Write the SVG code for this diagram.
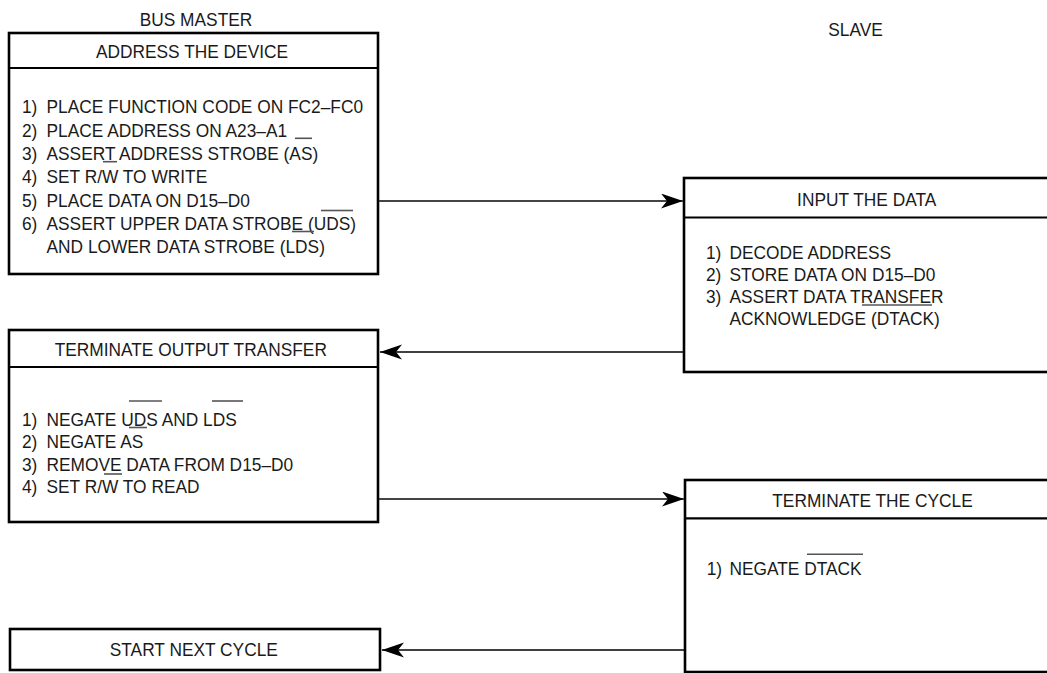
<svg xmlns="http://www.w3.org/2000/svg" width="1047" height="673" viewBox="0 0 1047 673">
<style>
.box{fill:#fff;stroke:#000;stroke-width:2.6}
.div{stroke:#000;stroke-width:2.2}
.t{font-family:"Liberation Sans",Arial,sans-serif;font-size:19px;fill:#1a1a1a}
.c{text-anchor:middle}
.bar{stroke:#555;stroke-width:1.6}
.rc{stroke:#444;stroke-width:1.8;fill:none}
.lc{stroke:#000;stroke-width:1.3;fill:none}
</style>
<defs>
<marker id="ah" markerUnits="userSpaceOnUse" markerWidth="24" markerHeight="16" refX="22" refY="7.5" orient="auto">
<path d="M0,0 L22,7.5 L0,15 L6,7.5 Z" fill="#000"/>
</marker>
</defs>
<rect width="1047" height="673" fill="#fff"/>
<g id="labels">
<g transform="scale(0.912 1)">
<text class="t c" x="214.91" y="26">BUS MASTER</text>
<text class="t c" x="938.05" y="36.5">SLAVE</text>
</g>
</g>
<g id="address">
<rect class="box" x="9" y="33" width="369" height="241"/>
<line class="div" x1="9" y1="68" x2="378" y2="68"/>
<g transform="scale(0.912 1)">
<text class="t c" x="210.53" y="58.5">ADDRESS THE DEVICE</text>
<text class="t" y="113.5"><tspan x="24.12">1)</tspan><tspan x="50.99">PLACE FUNCTION CODE ON FC2–FC0</tspan></text>
<text class="t" y="136.8"><tspan x="24.12">2)</tspan><tspan x="50.99">PLACE ADDRESS ON A23–A1</tspan></text>
<text class="t" y="160.1"><tspan x="24.12">3)</tspan><tspan x="50.99">ASSERT ADDRESS STROBE (AS)</tspan></text>
<text class="t" y="183.4"><tspan x="24.12">4)</tspan><tspan x="50.99">SET R/W TO WRITE</tspan></text>
<text class="t" y="206.7"><tspan x="24.12">5)</tspan><tspan x="50.99">PLACE DATA ON D15–D0</tspan></text>
<text class="t" y="230"><tspan x="24.12">6)</tspan><tspan x="50.99">ASSERT UPPER DATA STROBE (UDS)</tspan></text>
<text class="t" y="253.3"><tspan x="50.99">AND LOWER DATA STROBE (LDS)</tspan></text>
</g>
<line class="bar" x1="295" y1="138.3" x2="312" y2="138.3"/>
<line class="bar" x1="103" y1="161.7" x2="117" y2="161.7"/>
<line class="bar" x1="321" y1="210.5" x2="353" y2="210.5"/>
<line class="bar" x1="292" y1="231.5" x2="314" y2="231.5"/>
</g>
<g id="input">
<rect class="box" x="684" y="178" width="400" height="194"/>
<line class="div" x1="684" y1="217.5" x2="1047" y2="217.5"/>
<g transform="scale(0.912 1)">
<text class="t c" x="950.33" y="206.5">INPUT THE DATA</text>
<text class="t" y="259"><tspan x="774.12">1)</tspan><tspan x="799.89">DECODE ADDRESS</tspan></text>
<text class="t" y="281"><tspan x="774.12">2)</tspan><tspan x="799.89">STORE DATA ON D15–D0</tspan></text>
<text class="t" y="303"><tspan x="774.12">3)</tspan><tspan x="799.89">ASSERT DATA TRANSFER</tspan></text>
<text class="t" y="325"><tspan x="799.89">ACKNOWLEDGE (DTACK)</tspan></text>
</g>
<line class="bar" x1="862" y1="305" x2="932" y2="305"/>
</g>
<g id="terminate-output">
<rect class="box" x="9" y="330" width="369" height="192"/>
<line class="div" x1="9" y1="367" x2="378" y2="367"/>
<g transform="scale(0.912 1)">
<text class="t c" x="209.21" y="356.5">TERMINATE OUTPUT TRANSFER</text>
<text class="t" y="426"><tspan x="24.12">1)</tspan><tspan x="50.99">NEGATE UDS AND LDS</tspan></text>
<text class="t" y="448.5"><tspan x="24.12">2)</tspan><tspan x="50.99">NEGATE AS</tspan></text>
<text class="t" y="471"><tspan x="24.12">3)</tspan><tspan x="50.99">REMOVE DATA FROM D15–D0</tspan></text>
<text class="t" y="493.5"><tspan x="24.12">4)</tspan><tspan x="50.99">SET R/W TO READ</tspan></text>
</g>
<line class="bar" x1="129" y1="401" x2="162" y2="401"/>
<line class="bar" x1="212" y1="401" x2="243" y2="401"/>
<line class="bar" x1="129" y1="427.5" x2="147" y2="427.5"/>
<line class="bar" x1="104" y1="474" x2="122" y2="474"/>
</g>
<g id="terminate-cycle">
<rect class="box" x="685" y="480" width="400" height="192"/>
<line class="div" x1="685" y1="518.3" x2="1047" y2="518.3"/>
<g transform="scale(0.912 1)">
<text class="t c" x="956.69" y="507">TERMINATE THE CYCLE</text>
<text class="t" y="575"><tspan x="774.85">1)</tspan><tspan x="799.89">NEGATE DTACK</tspan></text>
</g>
<line class="bar" x1="807" y1="554.3" x2="863" y2="554.3"/>
</g>
<g id="start-next">
<rect class="box" x="10" y="629" width="370" height="41"/>
<g transform="scale(0.912 1)">
<text class="t c" x="212.5" y="656.5">START NEXT CYCLE</text>
</g>
</g>
<g id="connectors">
<line class="rc" x1="379" y1="201" x2="683" y2="201" marker-end="url(#ah)"/>
<line class="lc" x1="683" y1="352" x2="380" y2="352" marker-end="url(#ah)"/>
<line class="rc" x1="379" y1="499" x2="684" y2="499" marker-end="url(#ah)"/>
<line class="lc" x1="684" y1="650" x2="382" y2="650" marker-end="url(#ah)"/>
</g>
</svg>
